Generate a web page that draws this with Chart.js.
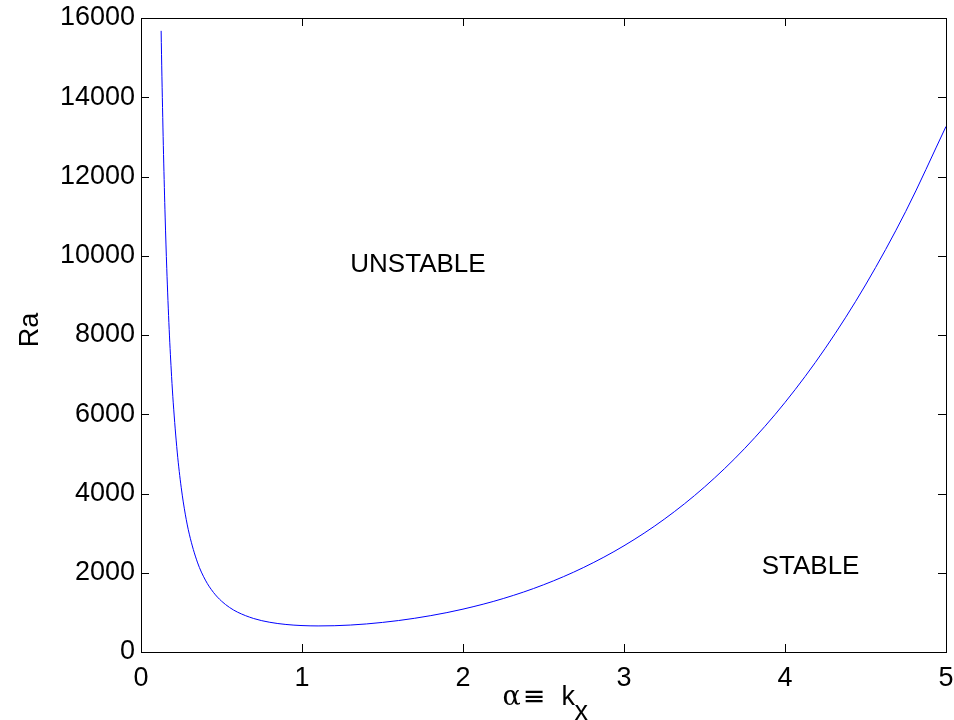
<!DOCTYPE html>
<html>
<head>
<meta charset="utf-8">
<script src="https://cdn.jsdelivr.net/npm/chart.js@4"></script>
<style>
  html, body { margin: 0; padding: 0; background: #ffffff; }
  #c { display: block; }
</style>
</head>
<body>
<canvas id="c" width="954" height="720"></canvas>
<script>
// Wavenumber (alpha) values
const alphaValues = [0.125, 0.13, 0.14, 0.15, 0.16, 0.175, 0.19, 0.2, 0.225, 0.25, 0.275, 0.3, 0.35, 0.4, 0.45, 0.5, 0.55, 0.6, 0.7, 0.8, 0.9, 1.0, 1.1, 1.2, 1.3, 1.4, 1.6, 1.8, 2.0, 2.25, 2.5, 2.75, 3.0, 3.25, 3.5, 3.75, 4.0, 4.25, 4.5, 4.75, 5.0];
// Critical Rayleigh number read at each alpha
const raValues = [15676, 14516, 12557, 10977, 9684, 8144, 6954, 6305, 5046, 4145, 3479, 2974, 2269, 1814, 1504, 1284, 1124, 1005, 845, 750, 695, 667, 658, 663, 680, 708, 794, 918, 1082, 1349, 1696, 2135, 2681, 3351, 4164, 5139, 6298, 7665, 9263, 11120, 13263];
// Axis ticks
const xTicks = [0, 1, 2, 3, 4, 5];
const yTicks = [0, 2000, 4000, 6000, 8000, 10000, 12000, 14000, 16000];
// Region annotations (text, alpha, Ra)
const annotationTexts = ['UNSTABLE', 'STABLE'];
const annotationAlpha = [1.3, 3.855];
const annotationRa = [9770, 2150];
const yAxisLabel = 'Ra';

const FONT = "'Liberation Sans', Arial, Helvetica, sans-serif";

const points = alphaValues.map((a, i) => ({ x: a, y: raValues[i] }));

const framePlugin = {
  id: 'frame',
  afterDraw(chart) {
    const ctx = chart.ctx;
    const ca = chart.chartArea;
    const xs = chart.scales.x, ys = chart.scales.y;
    ctx.save();
    ctx.strokeStyle = '#000000';
    ctx.lineWidth = 1;
    // box
    ctx.strokeRect(Math.round(ca.left) + 0.5, Math.round(ca.top) + 0.5,
                   Math.round(ca.right - ca.left), Math.round(ca.bottom - ca.top));
    const tl = 8;
    ctx.beginPath();
    xTicks.forEach(v => {
      const px = Math.round(xs.getPixelForValue(v)) + 0.5;
      ctx.moveTo(px, ca.bottom); ctx.lineTo(px, ca.bottom - tl);
      ctx.moveTo(px, ca.top); ctx.lineTo(px, ca.top + tl);
    });
    yTicks.forEach(v => {
      const py = Math.round(ys.getPixelForValue(v)) + 0.5;
      ctx.moveTo(ca.left, py); ctx.lineTo(ca.left + tl, py);
      ctx.moveTo(ca.right, py); ctx.lineTo(ca.right - tl, py);
    });
    ctx.stroke();

    // annotations
    ctx.fillStyle = '#000000';
    ctx.font = '26px ' + FONT;
    ctx.textAlign = 'left';
    ctx.textBaseline = 'middle';
    annotationTexts.forEach((t, i) => {
      ctx.fillText(t, xs.getPixelForValue(annotationAlpha[i]), ys.getPixelForValue(annotationRa[i]));
    });

    // x axis label "α ≡ k" with subscript x
    const xc = (ca.left + ca.right) / 2;
    ctx.textBaseline = 'alphabetic';
    ctx.textAlign = 'left';
    ctx.font = '27px ' + "'DejaVu Serif', serif";
    ctx.fillText('α', xc - 41, 705);
    ctx.font = '27px ' + "'DejaVu Sans', sans-serif";
    ctx.textAlign = 'center';
    ctx.fillText('≡', xc - 9.5, 705);
    ctx.textAlign = 'left';
    ctx.font = '27px ' + FONT;
    ctx.fillText('k', xc + 18, 705);
    ctx.fillText('x', xc + 31, 720);

    // y axis label
    ctx.save();
    ctx.translate(31, 330);
    ctx.rotate(-Math.PI / 2);
    ctx.textAlign = 'center';
    ctx.textBaseline = 'middle';
    ctx.font = '27px ' + FONT;
    ctx.fillText(yAxisLabel, 0, 0);
    ctx.restore();
    ctx.restore();
  }
};

new Chart(document.getElementById('c'), {
  type: 'scatter',
  data: {
    datasets: [{
      data: points,
      showLine: true,
      borderColor: '#0000ff',
      borderWidth: 1,
      pointRadius: 0,
      cubicInterpolationMode: 'monotone',
      fill: false
    }]
  },
  options: {
    responsive: false,
    animation: false,
    devicePixelRatio: 1,
    layout: { padding: { left: 0, right: 8, top: 18, bottom: 0 } },
    plugins: { legend: { display: false }, tooltip: { enabled: false } },
    scales: {
      x: {
        type: 'linear', min: 0, max: 5,
        afterBuildTicks: s => { s.ticks = xTicks.map(v => ({ value: v })); },
        ticks: { color: '#000000', font: { family: FONT, size: 27 }, padding: 10, maxRotation: 0 },
        grid: { display: false, drawTicks: false },
        border: { display: false },
        afterFit: s => { s.height = 68; s.paddingLeft = 0; s.paddingRight = 0; }
      },
      y: {
        type: 'linear', min: 0, max: 16000,
        afterBuildTicks: s => { s.ticks = yTicks.map(v => ({ value: v })); },
        ticks: { color: '#000000', font: { family: FONT, size: 27 }, padding: 6,
                 callback: v => String(v) },
        grid: { display: false, drawTicks: false },
        border: { display: false },
        afterFit: s => { s.width = 141; s.paddingTop = 0; s.paddingBottom = 0; }
      }
    }
  },
  plugins: [framePlugin]
});
</script>
</body>
</html>
